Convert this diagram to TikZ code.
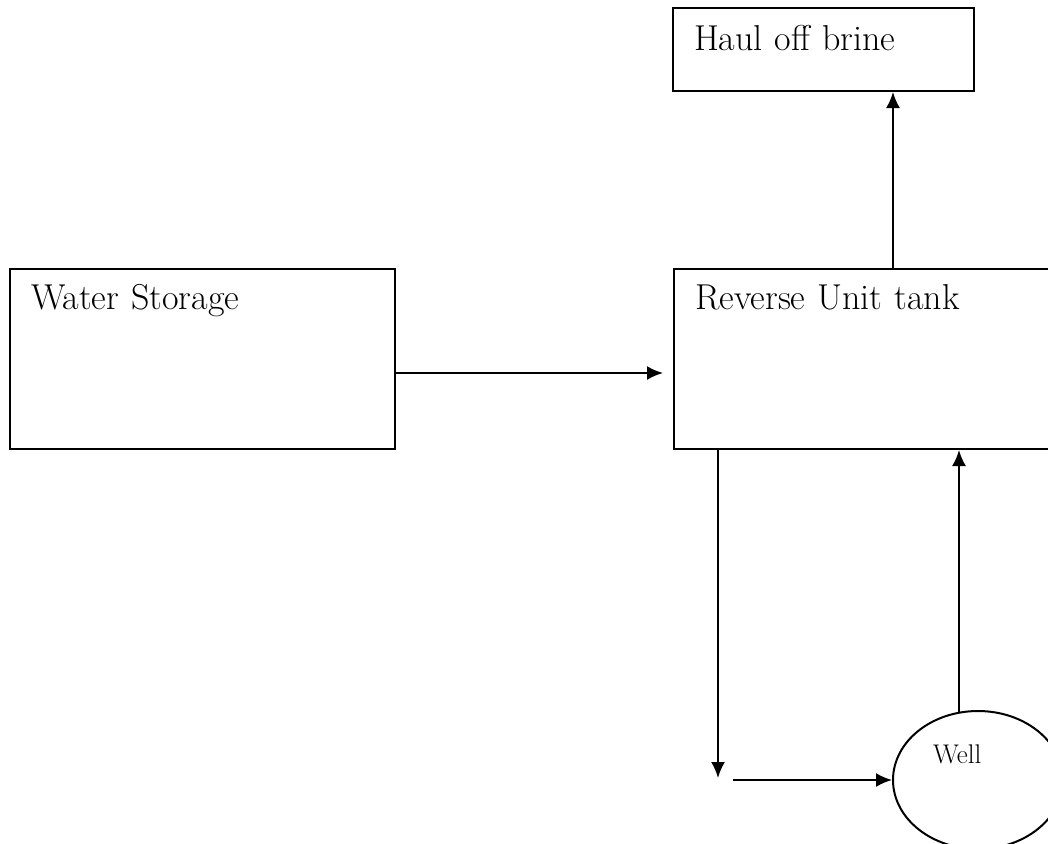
\documentclass[tikz,border=0pt]{standalone}
\usepackage{fontspec}
\usetikzlibrary{arrows.meta,shapes.geometric}

\begin{document}
\begin{tikzpicture}[x=1pt,y=-1pt,
		tank/.style={draw,line width=2pt,anchor=north west,align=left,inner xsep=21pt,inner ysep=0pt,font=\fontsize{36}{42}\selectfont},
		flow/.style={line width=2pt,-{Latex[length=16pt,width=14pt]}}]
			\useasboundingbox (0,0) rectangle (1048,843);
			\clip (0,0) rectangle (1048,843);
			\node[tank,text width=343pt,text height=40pt,text depth=140pt] (store) at (9,268) {Water Storage};
			\node[tank,text width=396pt,text height=40pt,text depth=140pt] (tank) at (673,268) {Reverse Unit tank};
			\node[tank,text width=259pt,text height=42pt,text depth=41pt] (haul) at (672,7) {Haul off brine};
			\node[draw,ellipse,line width=2pt,minimum width=170pt,minimum height=138pt,inner sep=0pt] (well) at (978,780) {};
			\node[anchor=base west,inner sep=0pt,font=\fontsize{27}{32}\selectfont] (welltext) at (933,763) {Well};
			\coordinate (drop) at (718,778);
			\coordinate (pipe) at (733,780);
			\coordinate (riser) at (959,713);
			\draw[flow] ([yshift=-14pt]store.east) -- ([xshift=-10pt,yshift=-14pt]tank.west);
			\draw[flow] (tank.north) -- (tank.north |- haul.south);
			\draw[flow] (drop |- tank.south) -- (drop);
			\draw[flow] (pipe) -- (well.west);
			\draw[flow] (riser) -- (riser |- tank.south);
		\end{tikzpicture}
\end{document}
